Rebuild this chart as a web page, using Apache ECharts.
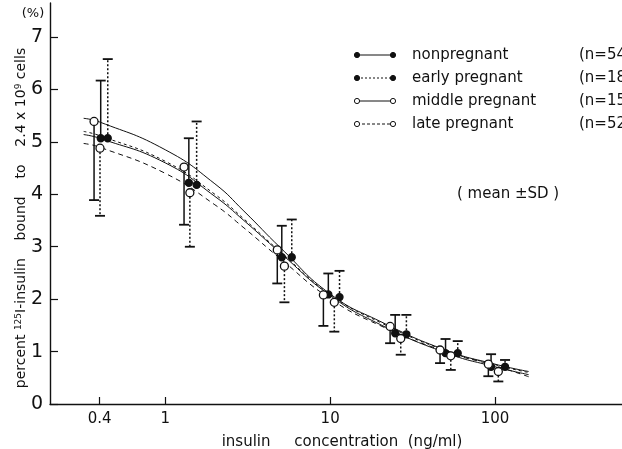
<!DOCTYPE html>
<html>
<head>
<meta charset="utf-8">
<script src="https://cdn.jsdelivr.net/npm/echarts@6/dist/echarts.min.js"></script>
<style>
  html, body { margin: 0; background: #fff; }
  #chart { width: 622px; height: 449px; }
</style>
</head>
<body>
<div id="chart"></div>
<script>
// insulin concentration (ng/ml) where each group is plotted (groups are shifted a little)
const concNon = [0.406, 1.39, 5.09, 9.75, 24.8, 50.1, 94.6]
const concEarly = [0.448, 1.55, 5.85, 11.4, 29.0, 59.4, 115]
const concMid = [0.37, 1.3, 4.78, 9.1, 23.1, 46.4, 91.1]
const concLate = [0.402, 1.41, 5.28, 10.6, 26.8, 53.9, 104.7]

// mean percent bound
const meanNon = [5.07, 4.22, 2.8, 2.09, 1.35, 0.97, 0.71]
const meanEarly = [5.07, 4.18, 2.8, 2.04, 1.33, 0.97, 0.71]
const meanMid = [5.39, 4.52, 2.94, 2.08, 1.48, 1.03, 0.76]
const meanLate = [4.88, 4.03, 2.63, 1.94, 1.25, 0.92, 0.62]

// end of the drawn SD bar (upper for non/early, lower for middle/late)
const sdEndNon = [6.17, 5.07, 3.4, 2.49, 1.7, 1.24, 0.95]
const sdEndEarly = [6.58, 5.39, 3.52, 2.54, 1.7, 1.2, 0.84]
const sdEndMid = [3.89, 3.42, 2.3, 1.49, 1.16, 0.78, 0.53]
const sdEndLate = [3.59, 3.0, 1.94, 1.38, 0.94, 0.65, 0.43]

// fitted curves: [conc, percent]
const curveNon = [[0.32, 5.14], [0.4, 5.07], [1, 4.6], [2, 3.96], [3, 3.5], [5, 2.88], [10, 2.07], [20, 1.52], [50, 0.98], [100, 0.71], [160, 0.56]]
const curveEarly = [[0.32, 5.2], [0.4, 5.12], [1, 4.63], [2, 4.0], [3, 3.53], [5, 2.9], [10, 2.09], [20, 1.56], [50, 1.02], [100, 0.75], [160, 0.6]]
const curveMid = [[0.32, 5.45], [0.4, 5.38], [1, 4.85], [2, 4.2], [3, 3.68], [5, 2.98], [10, 2.1], [20, 1.58], [50, 1.03], [100, 0.76], [160, 0.62]]
const curveLate = [[0.32, 4.97], [0.4, 4.9], [1, 4.4], [2, 3.8], [3, 3.36], [5, 2.77], [10, 2.01], [20, 1.5], [50, 1.0], [100, 0.73], [160, 0.52]]

const xTicks = [0.4, 1, 10, 100]
const xTickLabels = ['0.4', '1', '10', '100']
const yTicks = [0, 1, 2, 3, 4, 5, 6, 7]

const legendRows = [
  { name: 'nonpregnant', n: '(n=54)', filled: true, dash: null },
  { name: 'early pregnant', n: '(n=18)', filled: true, dash: [2, 2] },
  { name: 'middle pregnant', n: '(n=15)', filled: false, dash: null },
  { name: 'late pregnant', n: '(n=52)', filled: false, dash: [3, 2] }
]

const ink = '#111'
const font = "'DejaVu Sans', sans-serif"
const lg = v => Math.log10(v)

function curve (pts, dash) {
  return {
    type: 'line',
    data: pts.map(p => [lg(p[0]), p[1]]),
    smooth: true,
    showSymbol: false,
    silent: true,
    lineStyle: { color: ink, width: 1, type: dash || 'solid' },
    z: 2
  }
}

function sdBars (conc, mean, end, dotted) {
  return {
    type: 'custom',
    silent: true,
    data: conc.map((c, i) => [lg(c), mean[i], end[i]]),
    renderItem (params, api) {
      const p = api.coord([api.value(0), api.value(1)])
      const e = api.coord([api.value(0), api.value(2)])
      return {
        type: 'group',
        children: [
          { type: 'line', shape: { x1: p[0], y1: p[1], x2: e[0], y2: e[1] }, style: { stroke: ink, lineWidth: 1.5, lineDash: dotted ? [2, 2] : null } },
          { type: 'line', shape: { x1: e[0] - 5, y1: e[1], x2: e[0] + 5, y2: e[1] }, style: { stroke: ink, lineWidth: 1.8 } }
        ]
      }
    },
    z: 3
  }
}

function points (conc, mean, filled) {
  return {
    type: 'scatter',
    data: conc.map((c, i) => [lg(c), mean[i]]),
    symbol: 'circle',
    symbolSize: filled ? 7 : 8,
    silent: true,
    itemStyle: { color: filled ? ink : '#fff', borderColor: ink, borderWidth: 1.3, opacity: 1 },
    z: 4
  }
}

// legend drawn by hand: marker - line - marker, then text
const legendGraphics = []
legendRows.forEach((r, i) => {
  const y = 55 + i * 23
  legendGraphics.push({ type: 'line', shape: { x1: 357, y1: y, x2: 393, y2: y }, style: { stroke: ink, lineWidth: 1, lineDash: r.dash } })
  ;[357, 393].forEach(x => legendGraphics.push({ type: 'circle', shape: { cx: x, cy: y, r: 2.6 }, style: { fill: r.filled ? ink : '#fff', stroke: ink, lineWidth: 1 } }))
  legendGraphics.push({ type: 'text', x: 412, y: y, style: { text: r.name, font: '15px ' + font, fill: ink, verticalAlign: 'middle' } })
  legendGraphics.push({ type: 'text', x: 579, y: y, style: { text: r.n, font: '15px ' + font, fill: ink, verticalAlign: 'middle' } })
})

const chart = echarts.init(document.getElementById('chart'))
chart.setOption({
  animation: false,
  backgroundColor: '#fff',
  grid: { left: 50, right: 0, top: 3, bottom: 45 },
  xAxis: {
    type: 'value',
    min: -0.699,
    max: 2.77,
    splitLine: { show: false },
    axisLine: { lineStyle: { color: ink, width: 1.4 } },
    axisTick: { inside: true, length: 7, lineStyle: { color: ink, width: 1.2 }, customValues: xTicks.map(lg) },
    axisLabel: {
      customValues: xTicks.map(lg),
      formatter: v => xTickLabels[xTicks.findIndex(t => Math.abs(lg(t) - v) < 1e-6)],
      color: ink, fontSize: 15, fontFamily: font, margin: 8
    }
  },
  yAxis: {
    type: 'value',
    min: 0,
    max: 7.65,
    splitLine: { show: false },
    axisLine: { onZero: false, lineStyle: { color: ink, width: 1.4 } },
    axisTick: { inside: true, length: 8, lineStyle: { color: ink, width: 1.2 }, customValues: yTicks },
    axisLabel: { customValues: yTicks, color: ink, fontSize: 19, fontFamily: font, margin: 7 }
  },
  graphic: [
    { type: 'text', x: 33, y: 14, style: { text: '(%)', font: '13px ' + font, fill: ink, align: 'center', verticalAlign: 'middle' } },
    {
      type: 'text', x: 21, y: 218, rotation: Math.PI / 2,
      style: {
        text: '{a|percent }{s|125}{a|I-insulin    bound    to    2.4 x 10}{s|9}{a| cells}',
        align: 'center', verticalAlign: 'middle', fill: ink,
        rich: {
          a: { fontSize: 14, fontFamily: font, fill: ink },
          s: { fontSize: 9, fontFamily: font, fill: ink, verticalAlign: 'top' }
        }
      }
    },
    { type: 'text', x: 342, y: 442, style: { text: 'insulin     concentration  (ng/ml)', font: '15px ' + font, fill: ink, align: 'center', verticalAlign: 'middle' } },
    { type: 'text', x: 457, y: 194, style: { text: '( mean ±SD )', font: '15px ' + font, fill: ink, verticalAlign: 'middle' } }
  ].concat(legendGraphics),
  series: [
    curve(curveNon),
    curve(curveEarly, [3, 3]),
    curve(curveMid),
    curve(curveLate, [5, 4]),
    sdBars(concNon, meanNon, sdEndNon, false),
    sdBars(concEarly, meanEarly, sdEndEarly, true),
    sdBars(concMid, meanMid, sdEndMid, false),
    sdBars(concLate, meanLate, sdEndLate, true),
    points(concNon, meanNon, true),
    points(concEarly, meanEarly, true),
    points(concMid, meanMid, false),
    points(concLate, meanLate, false)
  ]
})
</script>
</body>
</html>
